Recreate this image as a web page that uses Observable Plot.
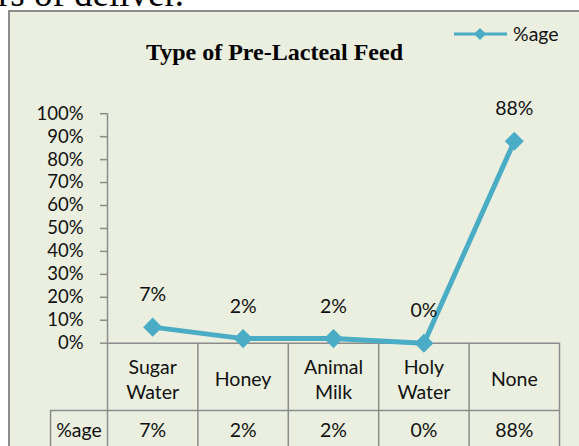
<!DOCTYPE html>
<html>
<head>
<meta charset="utf-8">
<script src="https://cdn.jsdelivr.net/npm/d3@7"></script>
<script src="https://cdn.jsdelivr.net/npm/@observablehq/plot@0.6"></script>
<style>
  html, body { margin: 0; padding: 0; background: #fff; }
  #wrap { position: relative; width: 579px; height: 446px; overflow: hidden; background: #fff; }
  #box { position: absolute; left: 8px; top: 10px; width: 620px; height: 520px;
         background: #EBEFDF; border-left: 2px solid #8c8c8c; border-top: 2px solid #8c8c8c; }
  #chart { position: absolute; left: 0; top: 0; }
  #overlay { position: absolute; left: 0; top: 0; pointer-events: none; }
</style>
</head>
<body>
<div id="wrap">
  <div id="box"></div>
  <div id="chart"></div>
  <svg id="overlay" width="579" height="446"></svg>
</div>
<script>
// ---- data ----
const categories = ["Sugar\nWater", "Honey", "Animal\nMilk", "Holy\nWater", "None"];
const values = [0.07, 0.02, 0.02, 0.00, 0.88];
const seriesName = "%age";
const yTicks = [0, 0.1, 0.2, 0.3, 0.4, 0.5, 0.6, 0.7, 0.8, 0.9, 1.0];
const chartTitle = "Type of Pre-Lacteal Feed";
const docText = "rs of deliver.";

// ---- layout constants (in scale units) ----
const headerLeftX = -1.13;   // left edge of the "%age" header cell
const rowDividerY = -0.293;  // line between category row and value row
const catLabelY = -0.152;    // centre of category labels
const valueRowY = -0.380;    // centre of value row
const tableBottomY = -0.55;  // below the picture
const lineColor = "#4BACC6";
const gridColor = "#8c8c8c";
const textColor = "#111";
const fmt = v => Math.round(v * 100) + "%";

const data = categories.map((c, i) => ({i, cat: c, v: values[i]}));
const edges = d3.range(categories.length + 1).map(k => k - 0.5);

const plot = Plot.plot({
  width: 579,
  height: 446,
  marginLeft: 107,
  marginRight: 20,
  marginTop: 113.2,
  marginBottom: 103.3,
  style: {background: "transparent", fontFamily: "Lato, sans-serif", fontSize: "18px", overflow: "visible", color: "#000"},
  x: {type: "linear", domain: [-0.5, categories.length - 0.5], axis: null},
  y: {type: "linear", domain: [0, 1], axis: null},
  marks: [
    // y axis ticks + labels
    Plot.axisY({ticks: yTicks, tickFormat: fmt, tickSize: 7, tickPadding: 17, stroke: gridColor, fill: textColor, fontSize: 18.5, strokeWidth: 1.5, label: null}),
    // y axis line continuing down as table left edge
    Plot.ruleX([edges[0]], {y1: tableBottomY, y2: 1, stroke: gridColor, strokeWidth: 1.5}),
    // baseline
    Plot.ruleY([0], {x1: edges[0], x2: edges[edges.length - 1], stroke: gridColor, strokeWidth: 1.5}),
    // table vertical lines
    Plot.ruleX(edges.slice(1), {y1: tableBottomY, y2: 0, stroke: gridColor, strokeWidth: 1.5}),
    Plot.ruleX([headerLeftX], {y1: tableBottomY, y2: rowDividerY, stroke: gridColor, strokeWidth: 1.5}),
    // row divider
    Plot.ruleY([rowDividerY], {x1: headerLeftX, x2: edges[edges.length - 1], stroke: gridColor, strokeWidth: 1.5}),
    // category labels
    Plot.text(data, {x: "i", y: () => catLabelY, text: "cat", fontSize: 19.5, fill: textColor, lineHeight: 1.3, lineAnchor: "middle"}),
    // value row
    Plot.text([seriesName], {x: () => (headerLeftX + edges[0]) / 2, y: () => valueRowY, text: d => d, fontSize: 19.5, fill: textColor, lineAnchor: "middle"}),
    Plot.text(data, {x: "i", y: () => valueRowY, text: d => fmt(d.v), fontSize: 19.5, fill: textColor, lineAnchor: "middle"}),
    // series
    Plot.line(data, {x: "i", y: "v", stroke: lineColor, strokeWidth: 5}),
    Plot.dot(data, {x: "i", y: "v", symbol: "diamond2", r: 8.6, fill: lineColor, stroke: "none"}),
    Plot.text(data, {x: "i", y: "v", text: d => fmt(d.v), dy: -32, fontSize: 19.5, fill: textColor, lineAnchor: "middle"})
  ]
});
document.getElementById("chart").appendChild(plot);

// ---- overlay: document text, title, legend ----
const ov = d3.select("#overlay");
ov.append("text").attr("x", -2).attr("y", 6).attr("font-family", "Liberation Serif")
  .attr("font-size", 37).attr("fill", "#000").text(docText);
ov.append("text").attr("x", 274.5).attr("y", 60).attr("text-anchor", "middle")
  .attr("font-family", "Liberation Serif").attr("font-weight", "bold").attr("font-size", 24)
  .attr("fill", "#000").text(chartTitle);
const lg = ov.append("g");
lg.append("line").attr("x1", 454).attr("x2", 507).attr("y1", 34).attr("y2", 34)
  .attr("stroke", lineColor).attr("stroke-width", 3);
lg.append("path").attr("d", "M480,28L486,34L480,40L474,34Z").attr("fill", lineColor);
lg.append("text").attr("x", 513).attr("y", 41).attr("font-family", "Lato, sans-serif")
  .attr("font-size", 19.5).attr("fill", textColor).text(seriesName);
</script>
</body>
</html>
